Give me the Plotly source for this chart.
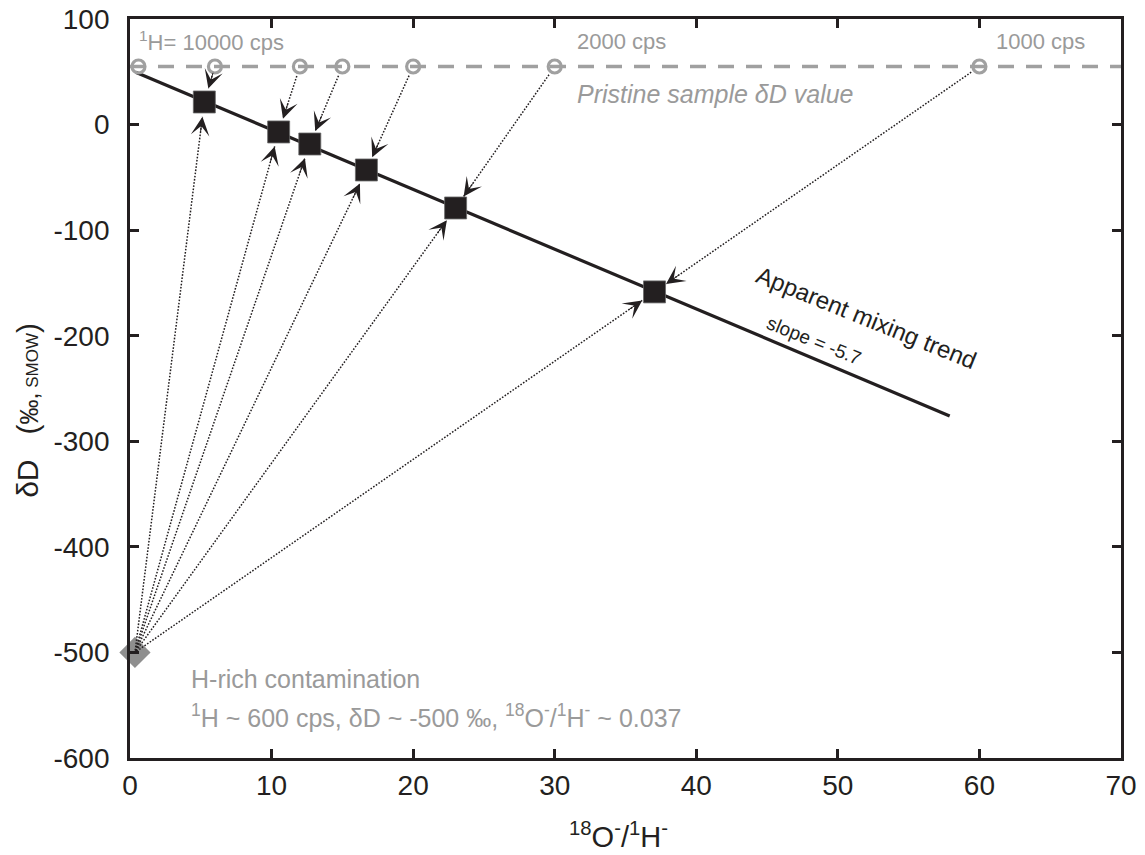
import plotly.graph_objects as go
import math

# ---------------- data ----------------
pristine_dD = 55
circle_ratio = [0.6, 6, 12, 15, 20, 30, 60]          # 18O-/1H- of pristine sample at various 1H count rates
square_ratio = [5.25, 10.5, 12.7, 16.7, 23.0, 37.05]   # measured (mixed) 18O-/1H-
square_dD = [21.4, -7.0, -18.4, -43.0, -79.0, -158.5]  # measured (mixed) dD
source_circle_idx = [1, 2, 3, 4, 5, 6]                 # pristine point each measured point derives from
contam_ratio = 0.35
contam_dD = -500
trend_x = [0.4, 57.9]
trend_y = [49.5, -276]
cps_labels = ["<sup>1</sup>H= 10000 cps", "2000 cps", "1000 cps"]
cps_label_x = [0.5, 31.4, 61.0]
cps_label_y = [79, 79, 78.5]
x_tickvals = [0, 10, 20, 30, 40, 50, 60, 70]
x_ticktext = ["0", "10", "20", "30", "40", "50", "60", "70"]
y_tickvals = [-600, -500, -400, -300, -200, -100, 0, 100]
y_ticktext = ["-600", "-500", "-400", "-300", "-200", "-100", "0", "100"]

# ---------------- layout constants ----------------
W, H = 1145, 855
ML, MR, MT, MB = 130, 24, 19, 97
XR = [0, 70]
YR = [-600, 100]
sx = (W - ML - MR) / (XR[1] - XR[0])
sy = (H - MT - MB) / (YR[1] - YR[0])

BLACK = "#231f20"
GRAY = "#9a9a9a"
FONT = "Liberation Sans, Arial, Helvetica, sans-serif"

fig = go.Figure()

# contamination diamond (drawn first, under dotted lines)
fig.add_trace(go.Scatter(x=[contam_ratio], y=[contam_dD], mode="markers",
                         marker=dict(symbol="diamond", size=24, color="#8f8f8f"),
                         cliponaxis=False, showlegend=False, hoverinfo="skip"))

# pristine dashed line
fig.add_trace(go.Scatter(x=XR, y=[pristine_dD, pristine_dD], mode="lines",
                         line=dict(color="#a0a0a0", width=3.5, dash="16px,12px"),
                         showlegend=False, hoverinfo="skip"))

# dotted arrow shafts
def seg(x0, y0, x1, y1, so, eo):
    dxp = (x1 - x0) * sx
    dyp = (y1 - y0) * sy
    L = math.hypot(dxp, dyp)
    ux, uy = dxp / L, dyp / L
    xs, ys = x0 + ux * so / sx, y0 + uy * so / sy
    xe, ye = x1 - ux * eo / sx, y1 - uy * eo / sy
    return xs, ys, xe, ye, ux, uy

dx, dy = [], []
heads = []
for i, (qx, qy) in enumerate(zip(square_ratio, square_dD)):
    cx = circle_ratio[source_circle_idx[i]]
    xs, ys, xe, ye, ux, uy = seg(cx, pristine_dD, qx, qy, 10, 14)
    dx += [xs, xe, None]; dy += [ys, ye, None]
    heads.append((xe, ye, ux, uy))
    xs, ys, xe, ye, ux, uy = seg(contam_ratio, contam_dD, qx, qy, 2, 15)
    dx += [xs, xe, None]; dy += [ys, ye, None]
    heads.append((xe, ye, ux, uy))

fig.add_trace(go.Scatter(x=dx, y=dy, mode="lines",
                         line=dict(color=BLACK, width=1.5, dash="1.6px,1.6px"),
                         showlegend=False, hoverinfo="skip"))

# trend line
fig.add_trace(go.Scatter(x=trend_x, y=trend_y, mode="lines",
                         line=dict(color=BLACK, width=3.2),
                         showlegend=False, hoverinfo="skip"))

# pristine circles
fig.add_trace(go.Scatter(x=circle_ratio, y=[pristine_dD] * len(circle_ratio), mode="markers",
                         marker=dict(symbol="circle-open", size=13, color="#a0a0a0",
                                     line=dict(width=3.2, color="#a0a0a0")),
                         cliponaxis=False, showlegend=False, hoverinfo="skip"))

# measured squares
fig.add_trace(go.Scatter(x=square_ratio, y=square_dD, mode="markers",
                         marker=dict(symbol="square", size=22, color=BLACK,
                                     line=dict(width=0.8, color="#6a6a6a")),
                         showlegend=False, hoverinfo="skip"))

ann = []
for xe, ye, ux, uy in heads:
    ann.append(dict(x=xe, y=ye, xref="x", yref="y", text="", showarrow=True,
                    ax=-ux * 18, ay=uy * 18, arrowhead=3, arrowsize=3.1,
                    arrowwidth=1, arrowcolor=BLACK, standoff=0))

for t, x, y in zip(cps_labels, cps_label_x, cps_label_y):
    ann.append(dict(x=x, y=y, xref="x", yref="y", text=t, showarrow=False,
                    xanchor="left", yanchor="middle",
                    font=dict(family=FONT, size=22, color=GRAY)))

ann.append(dict(x=31.4, y=29, xref="x", yref="y", text="<i>Pristine sample δD value</i>",
                showarrow=False, xanchor="left", yanchor="middle",
                font=dict(family=FONT, size=25, color=GRAY)))
ann.append(dict(x=4.17, y=-525, xref="x", yref="y", text="H-rich contamination",
                showarrow=False, xanchor="left", yanchor="middle",
                font=dict(family=FONT, size=25, color=GRAY)))
ann.append(dict(x=4.17, y=-560, xref="x", yref="y",
                text="<sup>1</sup>H ~ 600 cps, δD ~ -500 ‰, <sup>18</sup>O<sup>-</sup>/<sup>1</sup>H<sup>-</sup> ~ 0.037",
                showarrow=False, xanchor="left", yanchor="middle",
                font=dict(family=FONT, size=25, color=GRAY)))
ann.append(dict(x=52.0, y=-183, xref="x", yref="y", text="Apparent mixing trend",
                showarrow=False, textangle=22,
                font=dict(family=FONT, size=24, color=BLACK)))
ann.append(dict(x=48.3, y=-205, xref="x", yref="y", text="slope = -5.7",
                showarrow=False, textangle=22,
                font=dict(family=FONT, size=19, color=BLACK)))

# axis titles
ann.append(dict(x=0.4934, y=-0.104, xref="paper", yref="paper",
                text="<sup>18</sup>O<sup>-</sup>/<sup>1</sup>H<sup>-</sup>",
                showarrow=False, xanchor="center", yanchor="middle",
                font=dict(family=FONT, size=29, color=BLACK)))
ann.append(dict(x=-0.103, y=0.471, xref="paper", yref="paper",
                text="δD\u00a0\u00a0\u00a0(<span style='font-size:25px'>‰,</span><span style='font-size:17px'>\u00a0SMOW</span>)",
                showarrow=False, textangle=-90, xanchor="center", yanchor="middle",
                font=dict(family=FONT, size=30, color=BLACK)))

axis_common = dict(showgrid=False, zeroline=False, showline=True, linewidth=2.8,
                   linecolor=BLACK, mirror="ticks", ticks="inside", ticklen=9,
                   tickwidth=2.5, tickcolor=BLACK, automargin=False,
                   ticklabeloverflow="allow",
                   tickfont=dict(family=FONT, size=28, color=BLACK))

fig.update_layout(
    width=W, height=H,
    margin=dict(l=ML, r=MR, t=MT, b=MB, autoexpand=False),
    paper_bgcolor="white", plot_bgcolor="white",
    xaxis=dict(range=XR, tickmode="array", tickvals=x_tickvals, ticktext=x_ticktext,
               ticklabelstandoff=0, **axis_common),
    yaxis=dict(range=YR, tickmode="array", tickvals=y_tickvals, ticktext=y_ticktext,
               ticklabelstandoff=12, **axis_common),
    annotations=ann,
    showlegend=False,
)

# remove the browser's default 8px body margin so the figure fills the window exactly
fig.write_html("out.html", config={"displayModeBar": False},
               post_script="document.body.style.margin='0';")
